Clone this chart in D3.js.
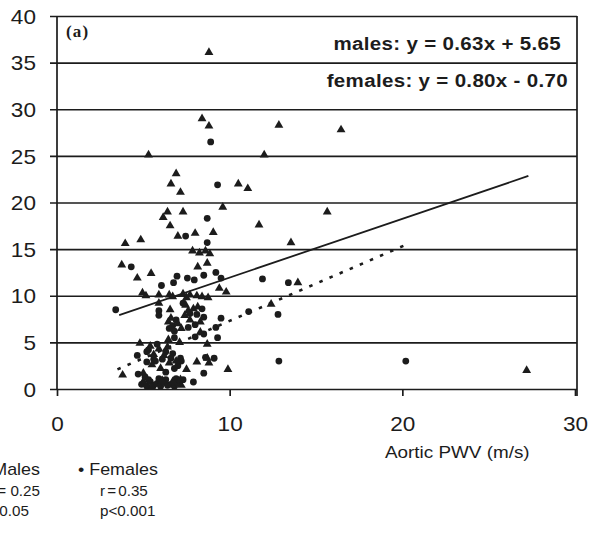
<!DOCTYPE html>
<html>
<head>
<meta charset="utf-8">
<script src="https://cdn.jsdelivr.net/npm/d3@7"></script>
<style>
  html, body { margin: 0; padding: 0; background: #fff; }
  svg { display: block; font-family: "Liberation Sans", Arial, sans-serif; }
</style>
</head>
<body>
<svg id="chart" width="591" height="535"></svg>
<script>
// Axis ticks
const xTicks = [0, 10, 20, 30];
const yTicks = [0, 5, 10, 15, 20, 25, 30, 35, 40];

// Males: [aortic PWV (m/s), y]
const malePoints = [
  [8.8, 36.1], [8.4, 29.0], [8.8, 28.2], [5.3, 25.1], [12.85, 28.3], [12.0, 25.1], [16.45, 27.8],
  [6.9, 23.1], [6.6, 22.0], [7.15, 21.1], [10.5, 22.0], [11.05, 21.5], [9.6, 19.5], [6.4, 19.0],
  [6.15, 18.4], [7.3, 19.0], [6.55, 17.5], [11.7, 17.6], [15.65, 19.0], [7.0, 16.4], [8.0, 16.7],
  [9.05, 16.8], [3.95, 15.6], [4.85, 16.0], [13.55, 15.7], [7.85, 14.8], [8.25, 14.6], [8.6, 14.8],
  [8.85, 14.5], [8.15, 13.1], [8.7, 13.5], [3.75, 13.3], [4.65, 11.9], [5.45, 12.4], [13.95, 11.4],
  [9.4, 10.8], [9.8, 10.4], [4.95, 10.3], [5.15, 10.0], [5.9, 10.1], [6.5, 10.1], [6.7, 9.9],
  [7.3, 10.2], [7.5, 9.8], [7.7, 10.1], [8.1, 10.0], [8.4, 9.9], [8.75, 9.8], [5.9, 9.2],
  [6.55, 8.5], [7.45, 9.0], [7.6, 8.4], [8.15, 8.8], [6.45, 7.2], [7.0, 7.0], [7.7, 7.4],
  [8.3, 6.1], [6.45, 5.3], [8.7, 4.8], [7.1, 5.0], [4.8, 4.9], [5.6, 3.7], [6.4, 4.5], [6.9, 3.0],
  [8.8, 2.8], [9.9, 2.1], [3.8, 1.5], [5.0, 1.7], [7.5, 2.1], [12.4, 9.1], [27.2, 2.0], [8.1, 2.9],
  [8.7, 3.3], [7.15, 1.0], [5.0, 0.8], [5.5, 0.2], [6.1, 0.9], [6.7, 0.8], [7.2, 0.4],
  [5.4, 4.6], [5.9, 4.3], [6.2, 3.6], [6.5, 2.8], [5.5, 2.6], [6.0, 2.2], [6.6, 7.6], [7.2, 6.5],
  [7.9, 8.6], [8.3, 7.2], [7.4, 7.9]
];

// Females: [aortic PWV (m/s), y]
const femalePoints = [
  [8.9, 26.5], [9.3, 21.9], [8.7, 18.3], [7.45, 16.4], [8.7, 15.7], [4.3, 13.1], [6.05, 11.1],
  [6.95, 12.1], [7.55, 11.9], [7.95, 11.7], [8.5, 12.2], [9.2, 12.5], [9.5, 11.9], [6.75, 11.4],
  [11.9, 11.8], [13.4, 11.4], [11.1, 8.3], [12.8, 8.0], [9.5, 7.6], [3.4, 8.5], [20.2, 3.0],
  [12.85, 3.0], [9.3, 5.5], [9.2, 6.6], [8.0, 5.6], [6.8, 5.5], [4.65, 3.6], [8.6, 3.4], [9.1, 3.3],
  [8.5, 1.7], [7.9, 0.75], [7.3, 1.0], [7.15, 3.3], [5.9, 8.4], [5.9, 7.9], [7.3, 9.2], [7.7, 8.1],
  [8.5, 7.7], [6.7, 6.8], [6.8, 6.2], [8.0, 6.9], [8.5, 5.9], [5.3, 4.2], [5.2, 4.0], [5.6, 3.2],
  [6.1, 3.2], [5.7, 3.0], [6.7, 3.8], [7.0, 2.5], [7.2, 3.0], [4.7, 1.6], [5.1, 1.3],
  [4.9, 0.5], [5.2, 0.3], [5.4, 0.8], [5.6, 0.4], [5.8, 0.6], [6.0, 0.3], [6.2, 0.7], [6.4, 0.4],
  [6.6, 0.5], [6.8, 0.3], [7.0, 0.6], [5.3, 1.0], [5.9, 1.1], [6.3, 1.0], [6.9, 1.1],
  [6.3, 4.0], [5.8, 4.8], [6.6, 3.3], [5.2, 2.9], [6.8, 2.2], [6.3, 1.8],
  [6.9, 7.4], [7.6, 6.6], [8.1, 8.0], [8.4, 8.6], [6.5, 6.5]
];

// Regression fits: slope, intercept and x extent
const maleFit = { slope: 0.63, intercept: 5.65, from: 3.6, to: 27.3 };
const femaleFit = { slope: 0.80, intercept: -0.70, from: 3.5, to: 20.2 };

const equations = ["males: y = 0.63x + 5.65", "females: y = 0.80x - 0.70"];
const legendNames = ["\u25B2 Males", "\u2022 Females"];
const legendR = ["r = 0.25", "r = 0.35"];
const legendP = ["p<0.05", "p<0.001"];

const ink = "#1c1c1c";
const svg = d3.select("#chart");

const x = d3.scaleLinear().domain([0, 30]).range([57, 575]);
const y = d3.scaleLinear().domain([0, 40]).range([389, 16]);
const plotRight = x(30) + 2;

// Printed text in the figure is slightly wide; stretch it horizontally about its anchor
function wide(sel, sx) {
  sel.each(function () {
    const t = d3.select(this);
    const px = +t.attr("x") || 0, py = +t.attr("y") || 0;
    t.attr("transform", `translate(${px},${py}) scale(${sx},1) translate(${-px},${-py})`);
  });
}

// Y axis with horizontal gridlines
const yAxis = svg.append("g")
  .attr("transform", `translate(${x(0)},0)`)
  .call(d3.axisLeft(y).tickValues(yTicks).tickSizeInner(-(plotRight - x(0))).tickSizeOuter(0).tickPadding(21));
yAxis.select(".domain").remove();
yAxis.selectAll(".tick line").attr("x1", -7).attr("stroke", ink).attr("stroke-width", 1.7);
yAxis.selectAll(".tick text")
  .attr("fill", ink).attr("font-size", 20).attr("dy", "0.36em")
  .call(wide, 1.13);

// Left axis line and right border
svg.append("line").attr("x1", x(0)).attr("x2", x(0)).attr("y1", y(40)).attr("y2", y(0))
  .attr("stroke", ink).attr("stroke-width", 1.7);
svg.append("line").attr("x1", plotRight).attr("x2", plotRight).attr("y1", y(40)).attr("y2", y(0) + 7)
  .attr("stroke", ink).attr("stroke-width", 1.7);

// X axis ticks and labels
const xAxis = svg.append("g")
  .attr("transform", `translate(0,${y(0)})`)
  .call(d3.axisBottom(x).tickValues(xTicks).tickSizeInner(7).tickSizeOuter(0).tickPadding(21));
xAxis.select(".domain").remove();
xAxis.selectAll(".tick line").attr("stroke", ink).attr("stroke-width", 1.7);
xAxis.selectAll(".tick text")
  .attr("fill", ink).attr("font-size", 20)
  .attr("transform", "scale(1.13,1)");

svg.append("text").attr("x", 385).attr("y", 458).attr("font-size", 16).attr("fill", ink)
  .text("Aortic PWV (m/s)").call(wide, 1.18);

// Panel tag
svg.append("text").attr("x", 66).attr("y", 37)
  .style("font-family", "'Liberation Serif', 'DejaVu Serif', serif")
  .style("font-weight", "bold").style("font-size", "17px").attr("letter-spacing", 1.2)
  .attr("fill", ink).text("(a)");

// Regression equations
svg.selectAll("text.eq").data(equations).join("text")
  .attr("class", "eq")
  .attr("x", (d, i) => i === 0 ? 561 : 568)
  .attr("y", (d, i) => i === 0 ? 50 : 87)
  .attr("text-anchor", "end").attr("font-weight", "bold").attr("font-size", 19)
  .attr("letter-spacing", 0.3).attr("fill", ink)
  .text(d => d).call(wide, 1.08);

// Regression lines
const fitLine = f => [[f.from, f.slope * f.from + f.intercept], [f.to, f.slope * f.to + f.intercept]];
const line = d3.line().x(d => x(d[0])).y(d => y(d[1]));
svg.append("path").attr("d", line(fitLine(maleFit)))
  .attr("stroke", ink).attr("stroke-width", 1.8).attr("fill", "none");
svg.append("path").attr("d", line(fitLine(femaleFit)))
  .attr("stroke", ink).attr("stroke-width", 2.6).attr("fill", "none")
  .attr("stroke-dasharray", "3.5,7.5");

// Female points (circles)
svg.append("g").selectAll("circle").data(femalePoints).join("circle")
  .attr("cx", d => x(d[0])).attr("cy", d => y(d[1])).attr("r", 3.4).attr("fill", ink);

// Male points (triangles)
const tri = d3.symbol().type(d3.symbolTriangle).size(34);
svg.append("g").selectAll("path").data(malePoints).join("path")
  .attr("d", tri).attr("transform", d => `translate(${x(d[0])},${y(d[1])})`).attr("fill", ink);

// Legend below the plot
const legend = svg.append("g").attr("fill", ink);
legend.append("text").attr("x", 40).attr("y", 475).attr("text-anchor", "end")
  .attr("font-size", 16).text(legendNames[0]).call(wide, 1.12);
legend.append("text").attr("x", 78).attr("y", 475)
  .attr("font-size", 16).text(legendNames[1]).call(wide, 1.12);
legend.append("text").attr("x", 40).attr("y", 496).attr("text-anchor", "end")
  .attr("font-size", 14.5).text(legendR[0]).call(wide, 1.05);
legend.append("text").attr("x", 100).attr("y", 496)
  .attr("font-size", 14.5).attr("word-spacing", -2).text(legendR[1]).call(wide, 1.05);
legend.append("text").attr("x", 29).attr("y", 516).attr("text-anchor", "end")
  .attr("font-size", 14.5).text(legendP[0]).call(wide, 1.05);
legend.append("text").attr("x", 100).attr("y", 516)
  .attr("font-size", 14.5).text(legendP[1]).call(wide, 1.05);
</script>
</body>
</html>
